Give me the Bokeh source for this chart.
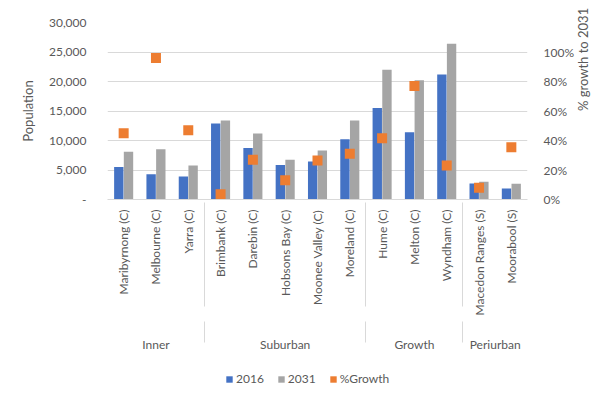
import math
from bokeh.plotting import figure
from bokeh.layouts import column
from bokeh.models import (FactorRange, Range1d, LinearAxis, CategoricalAxis, CustomJSTickFormatter,
                          NumeralTickFormatter, Legend, LegendItem, ColumnDataSource,
                          SingleIntervalTicker)
from bokeh.transform import dodge
from bokeh.embed import file_html
from bokeh.resources import INLINE

groups = ["Inner"] * 3 + ["Suburban"] * 5 + ["Growth"] * 3 + ["Periurban"] * 2
councils = ["Maribyrnong (C)", "Melbourne (C)", "Yarra (C)", "Brimbank (C)", "Darebin (C)",
            "Hobsons Bay (C)", "Moonee Valley (C)", "Moreland (C)", "Hume (C)", "Melton (C)",
            "Wyndham (C)", "Macedon Ranges (S)", "Moorabool (S)"]
pop_2016 = [5500, 4300, 3900, 12900, 8750, 5850, 6450, 10200, 15500, 11400, 21200, 2700, 1850]
pop_2031 = [8100, 8500, 5750, 13400, 11200, 6750, 8300, 13400, 22000, 20200, 26400, 3000, 2650]
growth = [0.45, 0.96, 0.47, 0.035, 0.27, 0.13, 0.265, 0.31, 0.415, 0.77, 0.23, 0.08, 0.355]
series_names = ["2016", "2031", "%Growth"]

FONT = "Lato"
TXT = "#595959"
LINE = "#d9d9d9"
BLUE = "#4472C4"
GREY = "#A5A5A5"
ORANGE = "#ED7D31"

factors = list(zip(groups, councils))
src = ColumnDataSource(dict(x=factors, a=pop_2016, b=pop_2031, g=growth))

p = figure(frame_width=420, frame_height=177, output_backend="svg", toolbar_location=None,
           x_range=FactorRange(*factors, group_padding=0, factor_padding=0, range_padding=0),
           y_range=Range1d(0, 30000))
p.extra_y_ranges = {"pct": Range1d(0, 1.2)}

p.min_border_left = 107
p.min_border_right = 71
p.min_border_top = 22
p.min_border_bottom = 0
p.outline_line_color = None
p.background_fill_color = "white"
p.border_fill_color = "white"

p.vbar(x=dodge("x", -0.15, range=p.x_range), top="a", width=0.29, source=src,
       color=BLUE, line_color=None)
p.vbar(x=dodge("x", 0.15, range=p.x_range), top="b", width=0.29, source=src,
       color=GREY, line_color=None)
p.scatter(x="x", y="g", source=src, marker="square", size=10, color=ORANGE,
          line_color=None, y_range_name="pct")

p.xgrid.grid_line_color = None
p.ygrid.grid_line_color = LINE
p.ygrid.grid_line_width = 1

# left axis
ya = p.yaxis[0]
ya.ticker = SingleIntervalTicker(interval=5000)
ya.formatter = CustomJSTickFormatter(code="return tick == 0 ? '-' : tick.toLocaleString('en-US');")
ya.axis_line_color = None
ya.major_tick_line_color = None
ya.minor_tick_line_color = None
ya.major_label_standoff = 15
ya.major_label_text_font = FONT
ya.major_label_text_font_size = "12px"
ya.major_label_text_color = TXT
ya.axis_label = "Population"
ya.axis_label_text_font = FONT
ya.axis_label_text_font_size = "13px"
ya.axis_label_text_font_style = "normal"
ya.axis_label_text_color = TXT
ya.axis_label_standoff = 10

# right axis
ra = LinearAxis(y_range_name="pct", ticker=SingleIntervalTicker(interval=0.2),
                formatter=NumeralTickFormatter(format="0%"), axis_label="% growth to 2031")
ra.axis_line_color = None
ra.major_tick_line_color = None
ra.minor_tick_line_color = None
ra.major_label_standoff = 10
ra.major_label_text_font = FONT
ra.major_label_text_font_size = "12px"
ra.major_label_text_color = TXT
ra.axis_label_text_font = FONT
ra.axis_label_text_font_size = "13px"
ra.axis_label_text_font_style = "normal"
ra.axis_label_text_color = TXT
ra.axis_label_standoff = 6
ra.axis_label_orientation = math.pi / 2
p.add_layout(ra, "right")

# category axis: council names
xa = p.xaxis[0]
xa.axis_line_color = LINE
xa.major_tick_line_color = None
xa.minor_tick_line_color = None
xa.major_label_orientation = math.pi / 2
xa.major_label_standoff = 4
xa.major_label_text_font = FONT
xa.major_label_text_font_size = "12px"
xa.major_label_text_color = TXT
xa.group_text_font_size = "0px"
xa.group_text_color = None
xa.separator_line_color = LINE
xa.separator_line_width = 1

# second category axis: region groups
ga = CategoricalAxis()
ga.axis_line_color = None
ga.major_tick_line_color = None
ga.minor_tick_line_color = None
ga.major_label_text_font_size = "0px"
ga.major_label_text_color = None
ga.major_label_standoff = 12
ga.group_text_font = FONT
ga.group_text_font_size = "12px"
ga.group_text_color = TXT
ga.group_text_font_style = "normal"
ga.separator_line_color = LINE
ga.separator_line_width = 1
p.add_layout(ga, "below")

# legend strip (its frame is aligned with the main frame by the column layout)
lg = figure(width=598, height=42, output_backend="svg", toolbar_location=None,
            x_range=Range1d(0, 1), y_range=Range1d(0, 1))
lg.min_border = 0
lg.outline_line_color = None
lg.axis.visible = False
lg.grid.visible = False
items = []
for name, col in zip(series_names, [BLUE, GREY, ORANGE]):
    r = lg.vbar(x=[-5], top=[0], bottom=[0], width=0.1, color=col, line_color=None)
    items.append(LegendItem(label=name, renderers=[r]))

legend = Legend(items=items, orientation="horizontal", location=(118, 10))
legend.label_text_font = FONT
legend.label_text_font_size = "12px"
legend.label_text_color = TXT
legend.glyph_width = 8
legend.glyph_height = 8
legend.spacing = 13
legend.label_standoff = 3
legend.border_line_color = None
legend.background_fill_alpha = 0
legend.padding = 4
legend.margin = 0
lg.add_layout(legend, "center")

layout = column(p, lg, spacing=0)
open("out.html", "w").write(file_html(layout, INLINE))
